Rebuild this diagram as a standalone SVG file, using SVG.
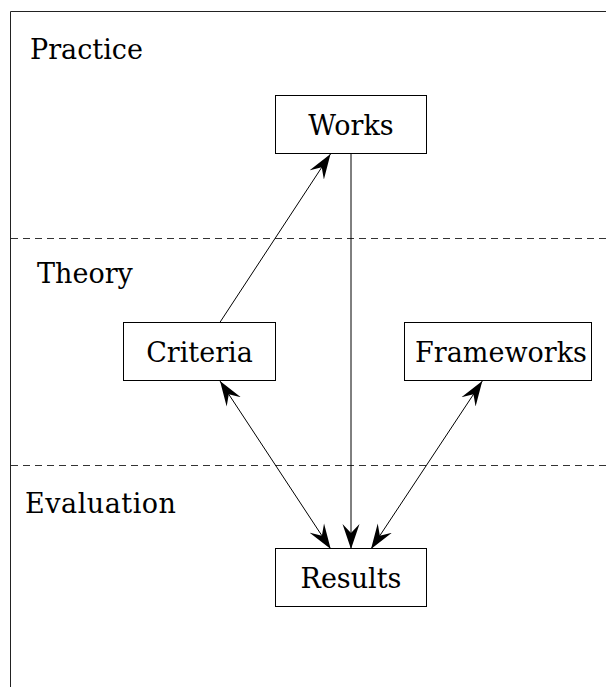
<svg xmlns="http://www.w3.org/2000/svg" width="606" height="687" viewBox="0 0 606 687">
<style>
  .frame { fill: none; stroke: #222; stroke-width: 1; }
  .sep { fill: none; stroke: #333; stroke-width: 1; stroke-dasharray: 7 5; }
  .box { fill: #fff; stroke: #000; stroke-width: 1; }
  .lbl { font-family: "DejaVu Serif", "Liberation Serif", serif; font-size: 27px; fill: #000; }
  .node { font-family: "DejaVu Serif", "Liberation Serif", serif; font-size: 27px; fill: #000; text-anchor: middle; }
  .edge { fill: none; stroke: #000; stroke-width: 1; }
</style>
<defs>
  <marker id="arr" markerUnits="userSpaceOnUse" markerWidth="26" markerHeight="18" viewBox="0 0 26 18" refX="25" refY="9" orient="auto-start-reverse">
    <path d="M25,9 L0,0.5 L9,9 L0,17.5 z" fill="#000"/>
  </marker>
</defs>
<rect width="606" height="687" fill="#fff"/>
<g id="frame">
  <path class="frame" d="M10.5,700 L10.5,11.5 L620,11.5"/>
  <line class="sep" x1="11" y1="238.5" x2="606" y2="238.5"/>
  <line class="sep" x1="11" y1="465.5" x2="606" y2="465.5"/>
  <text class="lbl" x="30" y="59">Practice</text>
  <text class="lbl" x="37" y="283">Theory</text>
  <text class="lbl" x="25" y="513" textLength="151">Evaluation</text>
</g>
<g id="connectors">
  <line class="edge" x1="219.5" y1="323" x2="330.5" y2="154" marker-end="url(#arr)"/>
  <line class="edge" x1="351" y1="154" x2="351" y2="549" marker-end="url(#arr)"/>
  <line class="edge" x1="220" y1="381" x2="330.7" y2="549" marker-start="url(#arr)" marker-end="url(#arr)"/>
  <line class="edge" x1="482.3" y1="381" x2="371" y2="549" marker-start="url(#arr)" marker-end="url(#arr)"/>
</g>
<g id="works">
  <rect class="box" x="275.5" y="95.5" width="151" height="58"/>
  <text class="node" x="351" y="134.5">Works</text>
</g>
<g id="criteria">
  <rect class="box" x="123.5" y="322.5" width="152" height="58"/>
  <text class="node" x="199.5" y="361.5">Criteria</text>
</g>
<g id="frameworks">
  <rect class="box" x="404.5" y="322.5" width="187" height="58"/>
  <text class="node" x="501" y="361.5">Frameworks</text>
</g>
<g id="results">
  <rect class="box" x="275.5" y="548.5" width="151" height="58"/>
  <text class="node" x="351" y="588">Results</text>
</g>
</svg>
